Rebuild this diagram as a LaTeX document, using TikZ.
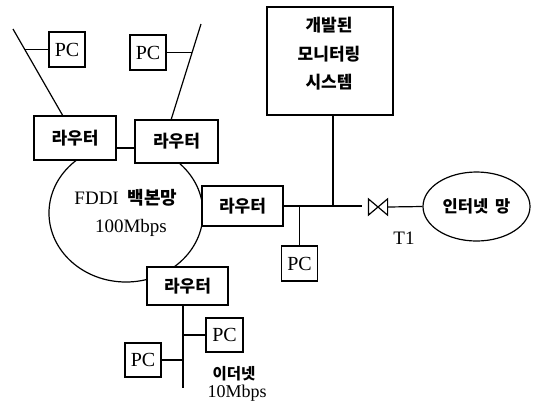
\documentclass[tikz,border=0pt]{standalone}
\usepackage{fontspec}
\setmainfont{Liberation Serif}
\newfontfamily\kr{Noto Sans CJK KR}
\usetikzlibrary{calc,shapes.geometric}
\begin{document}
\begin{tikzpicture}[x=1pt,y=-1pt,line width=1.2pt,
  box/.style={draw,fill=white,inner sep=0pt},
  router/.style={box,minimum width=82,minimum height=42,font=\kr\bfseries\fontsize{17}{17}\selectfont},
  pc/.style={box,minimum width=36,minimum height=35,font=\fontsize{20}{20}\selectfont},
  krtext/.style={inner sep=0pt,font=\kr\bfseries\fontsize{16}{16}\selectfont},
  lattext/.style={inner sep=0pt,font=\fontsize{19}{19}\selectfont}]
\useasboundingbox (0,0) rectangle (534,400);
% FDDI ring (top hidden behind the routers)
\begin{scope}
\clip (0,149) rectangle (534,400);
\node[draw,ellipse,minimum width=154,minimum height=138,inner sep=0pt] (fddi) at (126,213) {};
\end{scope}
\node[lattext] (fdditxt) at (126,198) {FDDI\hspace{9pt}{\kr\bfseries\fontsize{18}{18}\selectfont 백본망}};
\node[lattext] (fddispd) at (131,228) {100Mbps};
% top-left segments
\coordinate (la) at (13,29);
\coordinate (lb) at (63,116);
\coordinate (ma) at (201,24);
\coordinate (mb) at (171,120);
\draw (la) -- (lb);
\draw (ma) -- (mb);
\coordinate (ja) at ($(la)!0.236!(lb)$);
\coordinate (jb) at ($(ma)!0.297!(mb)$);
\node[pc] (pc1) at (67,49.5) {PC};
\node[pc] (pc2) at (148,52.5) {PC};
\draw (ja) -- (ja -| pc1.west);
\draw (pc2.east) -- (pc2.east -| jb);
% routers
\node[router,minimum height=44] (r1) at (75,138) {라우터};
\node[router,minimum height=43,minimum width=83] (r2) at (176.5,141.5) {라우터};
\coordinate (c12) at ($(r1.east)+(0,10)$);
\draw (c12) -- (c12 -| r2.west);
\node[router,minimum height=40,minimum width=81] (r3) at (242.5,206) {라우터};
\node[router,minimum height=38,minimum width=81] (r4) at (187.5,286) {라우터};
% monitoring system
\node[draw,minimum width=126,minimum height=108,inner sep=0pt] (mon) at (330,61) {};
\node[krtext,font=\kr\bfseries\fontsize{17}{28.5}\selectfont,align=center] (montxt) at (329,54) {개발된\\모니터링\\시스템};
% bus
\coordinate (busend) at (362,206);
\coordinate (montap) at (333,115);
\draw (r3.east) -- (busend);
\draw (montap) -- (montap |- busend);
\node[pc] (pc3) at (299.5,263.5) {PC};
\draw (pc3.north) -- (pc3.north |- busend);
% valve and internet
\node[inner sep=0pt,minimum width=18,minimum height=15] (valve) at (378,207) {};
\draw (valve.north west) -- (valve.south east) -- (valve.north east) -- (valve.south west) -- cycle;
\node[draw,ellipse,minimum width=107,minimum height=69,inner sep=0pt,font=\kr\bfseries\fontsize{16.5}{16.5}\selectfont] (inet) at (476.5,206.5) {인터넷\hspace{7pt}망};
\draw (valve.east) -- (inet.west);
\node[lattext] (t1) at (404,238) {T1};
% ethernet
\coordinate (ethend) at (183,388);
\draw (ethend |- r4.south) -- (ethend);
\node[pc,minimum width=37,minimum height=34] (pc4) at (224.5,335) {PC};
\node[pc,minimum width=36,minimum height=34] (pc5) at (143,360) {PC};
\draw (pc4.west) -- (pc4.west -| ethend);
\draw (pc5.east) -- (pc5.east -| ethend);
\node[krtext,font=\kr\bfseries\fontsize{15.5}{15.5}\selectfont] (ethtxt) at (234,374) {이더넷};
\node[lattext,font=\fontsize{18}{18}\selectfont] (ethspd) at (237,393) {10Mbps};
\end{tikzpicture}
\end{document}
